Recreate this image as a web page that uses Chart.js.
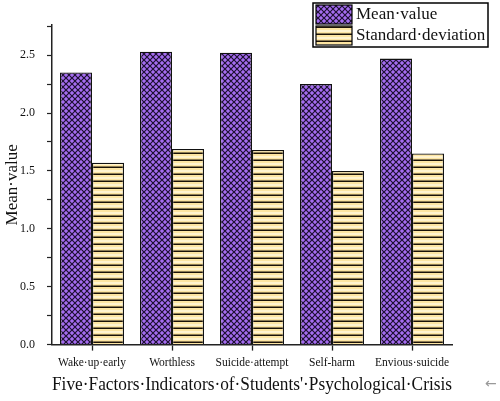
<!DOCTYPE html>
<html>
<head>
<meta charset="utf-8">
<script src="https://cdn.jsdelivr.net/npm/chart.js@4/dist/chart.umd.min.js"></script>
<style>
  html, body { margin: 0; padding: 0; background: #fff; }
  #wrap { width: 500px; height: 401px; position: relative; }
</style>
</head>
<body>
<div id="wrap"><canvas id="chart1"></canvas></div>
<script>
// categories and values
const categories = ["Wake·up·early", "Worthless", "Suicide·attempt", "Self-harm", "Envious·suicide"];
const meanValues = [2.35, 2.53, 2.52, 2.25, 2.47];
const stdValues = [1.57, 1.69, 1.68, 1.50, 1.65];
const seriesNames = ["Mean·value", "Standard·deviation"];
const yTicks = [0, 0.5, 1.0, 1.5, 2.0, 2.5];

function crossHatch() {
  const c = document.createElement("canvas");
  c.width = 6; c.height = 6;
  const g = c.getContext("2d");
  g.fillStyle = "#a56df0";
  g.fillRect(0, 0, 6, 6);
  g.strokeStyle = "#1c1030";
  g.lineWidth = 1.2;
  g.beginPath();
  g.moveTo(-1, -1); g.lineTo(7, 7);
  g.moveTo(-1, 7); g.lineTo(7, -1);
  g.stroke();
  return g.createPattern(c, "repeat");
}

function hStripes() {
  const c = document.createElement("canvas");
  c.width = 8; c.height = 7;
  const g = c.getContext("2d");
  g.fillStyle = "#fde5a2";
  g.fillRect(0, 0, 8, 7);
  g.fillStyle = "#fff3cf";
  g.fillRect(0, 2, 8, 2);
  g.fillStyle = "#1a1208";
  g.fillRect(0, 5.5, 8, 1.5);
  return g.createPattern(c, "repeat");
}

const meanFill = crossHatch();
const stdFill = hStripes();

const boxLegend = {
  id: "boxLegend",
  afterDraw(chart) {
    const ctx = chart.ctx;
    ctx.save();
    ctx.strokeStyle = "#000";
    ctx.lineWidth = 1.5;
    ctx.fillStyle = "#fff";
    ctx.fillRect(313, 3, 175, 44);
    ctx.strokeRect(313, 3, 175, 44);
    const fills = [meanFill, stdFill];
    ctx.font = "17px 'Liberation Serif'";
    ctx.textBaseline = "middle";
    ctx.textAlign = "left";
    chart.data.datasets.forEach((ds, i) => {
      const y = 5 + i * 21;
      ctx.fillStyle = fills[i];
      ctx.fillRect(316, y, 36, 19);
      ctx.lineWidth = 1.2;
      ctx.strokeRect(316, y, 36, 19);
      ctx.fillStyle = "#111";
      ctx.fillText(ds.label, 356, y + 10);
    });
    // return-mark after the axis title
    ctx.fillStyle = "#999";
    ctx.font = "14px 'DejaVu Sans'";
    ctx.fillText("←", 485, 384);
    ctx.restore();
  }
};

new Chart(document.getElementById("chart1"), {
  type: "bar",
  data: {
    labels: categories,
    datasets: [
      { label: seriesNames[0], data: meanValues, backgroundColor: meanFill, borderColor: "#111", borderWidth: 1.3 },
      { label: seriesNames[1], data: stdValues, backgroundColor: stdFill, borderColor: "#111", borderWidth: 1.3 }
    ]
  },
  options: {
    responsive: true,
    maintainAspectRatio: false,
    animation: false,
    layout: { padding: { top: 25, right: 48, left: 2, bottom: 5 } },
    datasets: { bar: { categoryPercentage: 0.8, barPercentage: 1.0 } },
    plugins: { legend: { display: false }, tooltip: { enabled: false } },
    scales: {
      x: {
        grid: { offset: false, drawOnChartArea: false, color: "#222", tickLength: 6, tickWidth: 1.3 },
        border: { color: "#222", width: 1.5 },
        ticks: { color: "#111", font: { family: "Liberation Serif", size: 11.5 }, maxRotation: 0, padding: 5 },
        title: {
          display: true,
          text: "Five·Factors·Indicators·of·Students'·Psychological·Crisis",
          color: "#111",
          font: { family: "Liberation Serif", size: 18 },
          padding: { top: 0, bottom: 0 }
        }
      },
      y: {
        min: 0,
        max: 2.76,
        afterFit(scale) { scale.width = 50; },
        afterBuildTicks(axis) {
          const t = [];
          for (let v = 0; v <= 2.75 + 1e-9; v += 0.25) t.push({ value: Math.round(v * 100) / 100 });
          axis.ticks = t;
        },
        grid: { drawOnChartArea: false, color: "#222", tickLength: 5, tickWidth: 1.2 },
        border: { color: "#222", width: 1.5 },
        ticks: {
          color: "#111",
          font: { family: "Liberation Serif", size: 12 },
          padding: 12,
          callback(v) { return yTicks.some(t => Math.abs(t - v) < 1e-6) ? Number(v).toFixed(1) : ""; }
        },
        title: {
          display: true,
          text: "Mean·value",
          color: "#111",
          font: { family: "Liberation Serif", size: 17 },
          padding: { top: 0, bottom: 0 }
        }
      }
    }
  },
  plugins: [boxLegend]
});
</script>
</body>
</html>
